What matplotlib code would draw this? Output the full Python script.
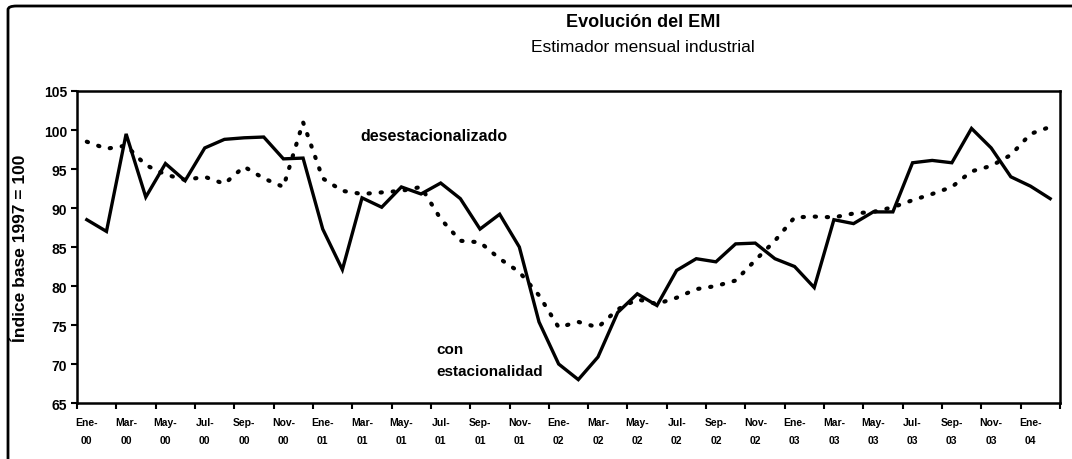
import numpy as np
import matplotlib.pyplot as plt
from matplotlib.patches import FancyBboxPatch

plt.rcParams['font.family'] = ['Liberation Sans', 'DejaVu Sans']

###############################################################################
# Data: EMI, Ene-00 .. Feb-04 (monthly)
###############################################################################
MESES = ['Ene', 'Feb', 'Mar', 'Abr', 'May', 'Jun',
         'Jul', 'Ago', 'Sep', 'Oct', 'Nov', 'Dic']
PERIODOS = ['{}-{:02d}'.format(m, a) for a in range(0, 5) for m in MESES][:50]

CON_ESTAC = [
    88.5, 87.0, 99.5, 91.4, 95.7, 93.5, 97.7, 98.8, 99.0, 99.1, 96.3, 96.4,
    87.3, 82.1, 91.3, 90.1, 92.7, 91.8, 93.2, 91.2, 87.3, 89.2, 85.0, 75.4,
    70.0, 68.0, 70.9, 76.6, 79.0, 77.5, 82.0, 83.5, 83.1, 85.4, 85.5, 83.5,
    82.5, 79.8, 88.5, 88.0, 89.5, 89.5, 95.8, 96.1, 95.8, 100.2, 97.7, 94.0,
    92.8, 91.2
]
DESESTAC = [
    98.5, 97.6, 98.0, 95.5, 94.3, 93.6, 94.0, 93.1, 95.3, 93.8, 92.7, 101.0,
    93.8, 92.2, 91.8, 92.0, 92.2, 92.7, 88.6, 85.8, 85.6, 83.5, 81.8, 78.8,
    74.7, 75.4, 74.7, 77.0, 78.3, 77.7, 78.5, 79.6, 80.0, 80.7, 83.3, 85.8,
    88.8, 88.9, 88.8, 89.3, 89.5, 90.1, 91.0, 91.8, 92.7, 94.7, 95.4, 96.8,
    99.5, 100.4
]

###############################################################################
# Plot
###############################################################################
fig = plt.figure(figsize=(10.72, 4.6), dpi=100)
ax = fig.add_axes([0.0718, 0.1217, 0.917, 0.6783])

# outer frame (rounded corner, cut off at right and bottom)
frame = FancyBboxPatch((8 / 1072, -0.2), 1.2, 1.2 - 7 / 460,
                       boxstyle='round,pad=0,rounding_size=0.008',
                       transform=fig.transFigure, fill=False,
                       lw=2.0, ec='black', zorder=0)
fig.patches.append(frame)

x = np.arange(len(PERIODOS))
ax.plot(x, CON_ESTAC, color='black', lw=2.4, solid_joinstyle='miter')
ax.plot(x, DESESTAC, color='black', lw=3.0,
        linestyle=(0, (0.3, 2.6)), dash_capstyle='round')

ax.set_xlim(-0.5, len(PERIODOS) - 0.5)
ax.set_ylim(65, 105)
ax.set_yticks(np.arange(65, 106, 5))
ax.tick_params(axis='y', direction='out', length=4, width=1.5,
               labelsize=10, pad=3)
for lab in ax.get_yticklabels():
    lab.set_fontweight('bold')

# ticks between categories, labels on every 2nd month
ax.set_xticks(np.arange(-0.5, len(PERIODOS), 2))
ax.set_xticklabels([])
ax.set_xticks(x[::2], minor=True)
ax.set_xticklabels([p.replace('-', '-\n') for p in PERIODOS[::2]],
                   minor=True, fontsize=7.5, fontweight='bold',
                   linespacing=2.0)
ax.tick_params(axis='x', which='major', direction='out', length=4, width=1.5)
ax.tick_params(axis='x', which='minor', length=0, pad=10)

for s in ax.spines.values():
    s.set_linewidth(1.8)

ax.set_ylabel('Índice base 1997 = 100', fontsize=12.5, fontweight='bold')
ax.yaxis.set_label_coords(-0.050, 0.5)

fig.text(0.6, 0.952, 'Evolución del EMI', ha='center', va='center',
         fontsize=13, fontweight='bold')
fig.text(0.6, 0.897, 'Estimador mensual industrial', ha='center',
         va='center', fontsize=12.5)

ax.text(13.9, 99.3, 'desestacionalizado', fontsize=11.5, fontweight='bold',
        va='center')
ax.text(17.8, 71.9, 'con', fontsize=11, fontweight='bold', va='center')
ax.text(17.8, 69.1, 'estacionalidad', fontsize=11, fontweight='bold',
        va='center')

fig.savefig('out.png', dpi=100)
